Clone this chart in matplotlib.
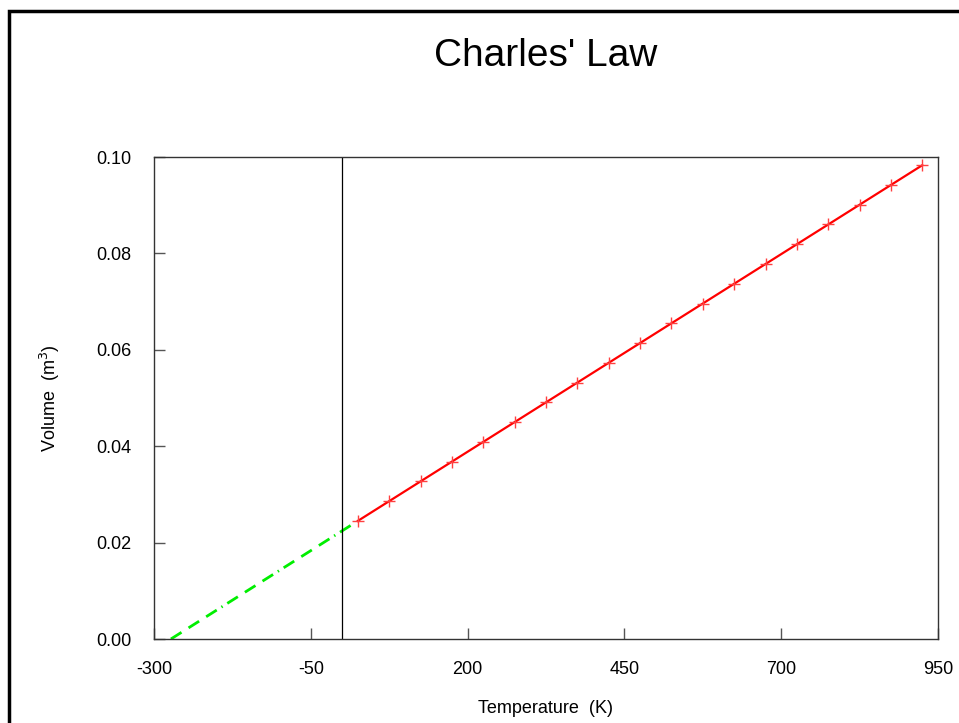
import matplotlib
matplotlib.use("Agg")
import matplotlib.pyplot as plt
from matplotlib.patches import Rectangle

plt.rcParams['font.family'] = ['Liberation Sans', 'DejaVu Sans']
plt.rcParams['lines.scale_dashes'] = False

# Data
T = [25, 75, 125, 175, 225, 275, 325, 375, 425, 475,
     525, 575, 625, 675, 725, 775, 825, 875, 925]
V = [0.0245, 0.0286, 0.0327, 0.0368, 0.0409, 0.0450, 0.0491, 0.0532, 0.0573, 0.0614,
     0.0655, 0.0696, 0.0737, 0.0778, 0.0819, 0.0860, 0.0901, 0.0942, 0.0983]
T_extrap = [-273, 25]
V_extrap = [0.0, 0.0245]
xticks = [-300, -50, 200, 450, 700, 950]
yticks = [0.00, 0.02, 0.04, 0.06, 0.08, 0.10]

fig = plt.figure(figsize=(9.59, 7.23), dpi=100)
ax = fig.add_axes([154/959, 84/723, 784/959, 482/723])

# outer frame of the figure
fig.patches.append(Rectangle((9/959, -0.05), 1.2, (723-11)/723 + 0.05,
                             transform=fig.transFigure, fill=False,
                             edgecolor='black', linewidth=2.5, zorder=10))

ax.plot(T_extrap, V_extrap, color='#00ee00', lw=2,
        dashes=[9, 6, 9, 6, 9, 4, 1, 4])
ax.plot(T, V, color='red', lw=1.6, marker='+', markersize=9,
        markeredgewidth=1.0, markeredgecolor='#ff4040')
ax.axvline(0, color='black', lw=0.9)

ax.set_xlim(-300, 950)
ax.set_ylim(0, 0.10)
ax.set_xticks(xticks)
ax.set_yticks(yticks)
ax.set_xticklabels([str(t) for t in xticks])
ax.set_yticklabels(['%.2f' % y for y in yticks])
ax.tick_params(direction='in', length=8, width=1, color='#555555',
               labelsize=13, pad=16)
for s in ax.spines.values():
    s.set_color('#333333')
    s.set_linewidth(1)

ax.set_xlabel('Temperature  (K)', fontsize=13)
ax.set_ylabel('Volume  (m$^3$)', fontsize=13)
ax.xaxis.set_label_coords(0.5, -0.127)
ax.yaxis.set_label_coords(-0.117, 0.5)
fig.text(546/959, 1 - 56/723, "Charles' Law", fontsize=28,
         ha='center', va='center')

fig.savefig('out.png', dpi=100)
